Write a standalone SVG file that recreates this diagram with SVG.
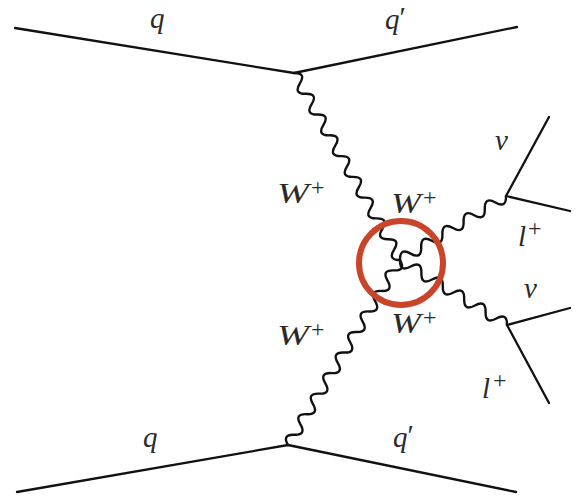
<svg xmlns="http://www.w3.org/2000/svg" width="576" height="496" viewBox="0 0 576 496">
<style>
.ln{fill:none;stroke:#111;stroke-width:2.3;stroke-linecap:round;stroke-linejoin:round}
.wv{fill:none;stroke:#111;stroke-width:2.4;stroke-linecap:round}
.t{font-family:"Liberation Serif","Times New Roman",serif;font-style:italic;font-size:29px;fill:#2a2a2a}
.s{font-family:"Liberation Serif","Times New Roman",serif;font-style:normal;font-size:24px;fill:#2a2a2a}
</style>
<rect width="576" height="496" fill="#fff"/>
<g id="connectors">
<polyline class="ln" points="15,28 294,73 517,27"/>
<polyline class="ln" points="17,492 288,445 516,492"/>
<polyline class="ln" points="549,117 506,196 570,211"/>
<polyline class="ln" points="570,308 507,325 549,403"/>
<path class="wv" transform="translate(294,73) rotate(60.45)" d="M0,0 q5.97,-11 11.94,0 t11.94,0 t11.94,0 t11.94,0 t11.94,0 t11.94,0 t11.94,0 t11.94,0 t11.94,0 t11.94,0 t11.94,0 t11.94,0 t11.94,0 t11.94,0 t11.94,0 t11.94,0 t11.94,0 t11.94,0"/>
<path class="wv" transform="translate(288,445) rotate(-58.8)" d="M0,0 q6.01,-11 12.01,0 t12.01,0 t12.01,0 t12.01,0 t12.01,0 t12.01,0 t12.01,0 t12.01,0 t12.01,0 t12.01,0 t12.01,0 t12.01,0 t12.01,0 t12.01,0 t12.01,0 t12.01,0 t12.01,0 t12.01,0"/>
<path class="wv" transform="translate(400,260) rotate(-31.1)" d="M0,0 q6.19,-11 12.38,0 t12.38,0 t12.38,0 t12.38,0 t12.38,0 t12.38,0 t12.38,0 t12.38,0 t12.38,0 t12.38,0"/>
<path class="wv" transform="translate(400,260) rotate(31.3)" d="M0,0 q6.26,11 12.52,0 t12.52,0 t12.52,0 t12.52,0 t12.52,0 t12.52,0 t12.52,0 t12.52,0 t12.52,0 t12.52,0"/>
</g>
<g id="highlight">
<circle cx="401" cy="263" r="42" fill="none" stroke="#c9452a" stroke-width="6"/>
</g>
<g id="label-q-top"><text class="t" x="150" y="28">q</text></g>
<g id="label-qp-top"><text class="t" x="385" y="29">q<tspan font-style="normal" dy="-2">′</tspan></text></g>
<g id="label-W1"><text class="t" x="277" y="203" textLength="32" lengthAdjust="spacingAndGlyphs">W</text><text class="s" x="311" y="195">+</text></g>
<g id="label-W2"><text class="t" x="391" y="213" textLength="30" lengthAdjust="spacingAndGlyphs">W</text><text class="s" x="423" y="205">+</text></g>
<g id="label-W3"><text class="t" x="277" y="345" textLength="32" lengthAdjust="spacingAndGlyphs">W</text><text class="s" x="311" y="337">+</text></g>
<g id="label-W4"><text class="t" x="391" y="333" textLength="30" lengthAdjust="spacingAndGlyphs">W</text><text class="s" x="423" y="325">+</text></g>
<g id="label-q-bot"><text class="t" x="143" y="447">q</text></g>
<g id="label-qp-bot"><text class="t" x="393" y="447">q<tspan font-style="normal" dy="-2">′</tspan></text></g>
<g id="label-nu1"><text class="t" x="495" y="150">ν</text></g>
<g id="label-l1"><text class="t" x="518" y="246">l</text><text class="s" x="528" y="236">+</text></g>
<g id="label-nu2"><text class="t" x="524" y="298">ν</text></g>
<g id="label-l2"><text class="t" x="482" y="398">l</text><text class="s" x="493" y="388">+</text></g>
</svg>
